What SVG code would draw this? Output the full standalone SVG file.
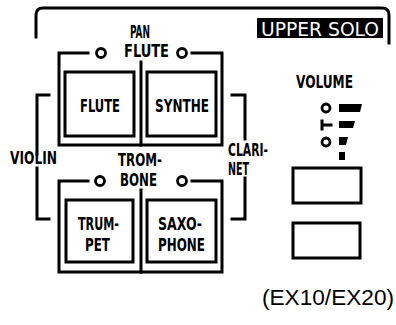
<svg xmlns="http://www.w3.org/2000/svg" width="396" height="325" viewBox="0 0 396 325">
<style>
.ln{fill:none;stroke:#000;stroke-width:3;stroke-linecap:square}
.btn{fill:#fff;stroke:#000;stroke-width:3}
.led{fill:#fff;stroke:#000;stroke-width:2.8}
.lb{font-family:"Liberation Sans Narrow","DejaVu Sans Condensed","Liberation Sans",sans-serif;font-weight:bold;font-size:17px;fill:#000;text-anchor:start}
.bar{fill:#000}
</style>
<rect width="396" height="325" fill="#fff"/>
<g id="panel">
<path class="ln" d="M36 37 V15 Q36 8 43 8 H382 Q389 8 389 15 V43" stroke-width="3.5"/>
<rect x="257" y="18" width="126" height="20" fill="#000"/>
<text x="261" y="35.5" textLength="118" lengthAdjust="spacingAndGlyphs" font-family="'Liberation Sans Narrow','DejaVu Sans Condensed','Liberation Sans',sans-serif" font-size="20" fill="#fff">UPPER SOLO</text>
</g>
<g id="connectors">
<path class="ln" d="M88 53 H59 V145 H222 V53 H192"/>
<line class="ln" x1="141" y1="62" x2="141" y2="145"/>
<path class="ln" d="M88 181 H59 V272 H222 V181 H192"/>
<line class="ln" x1="141" y1="190" x2="141" y2="272"/>
<path class="ln" d="M49 95 H37 V154 M37 168 V219 H49"/>
<path class="ln" d="M232 95 H245 V139 M245 178 V219 H232"/>
</g>
<g id="pan-flute">
<circle class="led" cx="101" cy="53" r="4.5"/>
<circle class="led" cx="182" cy="53" r="4.5"/>
<text class="lb" x="130" y="38" textLength="20" lengthAdjust="spacingAndGlyphs">PAN</text>
<text class="lb" x="124" y="57" textLength="45" lengthAdjust="spacingAndGlyphs">FLUTE</text>
</g>
<g id="flute">
<rect class="btn" x="65" y="72" width="69" height="64"/>
<text class="lb" x="80" y="112" textLength="40" lengthAdjust="spacingAndGlyphs">FLUTE</text>
</g>
<g id="synthe">
<rect class="btn" x="147" y="72" width="69" height="64"/>
<text class="lb" x="155" y="112" textLength="54" lengthAdjust="spacingAndGlyphs">SYNTHE</text>
</g>
<g id="violin">
<text class="lb" x="10" y="164" textLength="47" lengthAdjust="spacingAndGlyphs">VIOLIN</text>
</g>
<g id="clarinet">
<text class="lb" x="228" y="156" textLength="40" lengthAdjust="spacingAndGlyphs">CLARI-</text>
<text class="lb" x="228" y="175" textLength="21" lengthAdjust="spacingAndGlyphs">NET</text>
</g>
<g id="trombone">
<circle class="led" cx="100" cy="181" r="4.5"/>
<circle class="led" cx="182" cy="181" r="4.5"/>
<text class="lb" x="118" y="166" textLength="44" lengthAdjust="spacingAndGlyphs">TROM-</text>
<text class="lb" x="120" y="186" textLength="37" lengthAdjust="spacingAndGlyphs">BONE</text>
</g>
<g id="trumpet">
<rect class="btn" x="66" y="200" width="67" height="62"/>
<text class="lb" x="78" y="230" textLength="41" lengthAdjust="spacingAndGlyphs">TRUM-</text>
<text class="lb" x="85" y="251" textLength="25" lengthAdjust="spacingAndGlyphs">PET</text>
</g>
<g id="saxophone">
<rect class="btn" x="147" y="200" width="69" height="62"/>
<text class="lb" x="158" y="230" textLength="44" lengthAdjust="spacingAndGlyphs">SAXO-</text>
<text class="lb" x="158" y="251" textLength="47" lengthAdjust="spacingAndGlyphs">PHONE</text>
</g>
<g id="volume">
<text class="lb" x="296" y="88" textLength="57" lengthAdjust="spacingAndGlyphs">VOLUME</text>
<circle class="led" cx="326" cy="108" r="4"/>
<circle class="led" cx="326" cy="142" r="4"/>
<path class="ln" d="M322 121 V129 M322 125 H331" stroke-width="2.8" stroke-linecap="butt"/>
<polygon class="bar" points="339,104 362,104 360,112 339,112"/>
<polygon class="bar" points="339,121 355,121 353,128 339,128"/>
<polygon class="bar" points="339,137 348,137 346,145 339,145"/>
<rect class="bar" x="339" y="152" width="6" height="8"/>
<rect class="btn" x="293" y="168" width="68" height="35" stroke-width="2.5"/>
<rect class="btn" x="293" y="223" width="67" height="35" stroke-width="2.5"/>
</g>
<g id="model">
<text x="262" y="305" textLength="132" lengthAdjust="spacingAndGlyphs" font-family="'Liberation Sans',Arial,sans-serif" font-size="22" fill="#000">(EX10/EX20)</text>
</g>
</svg>
